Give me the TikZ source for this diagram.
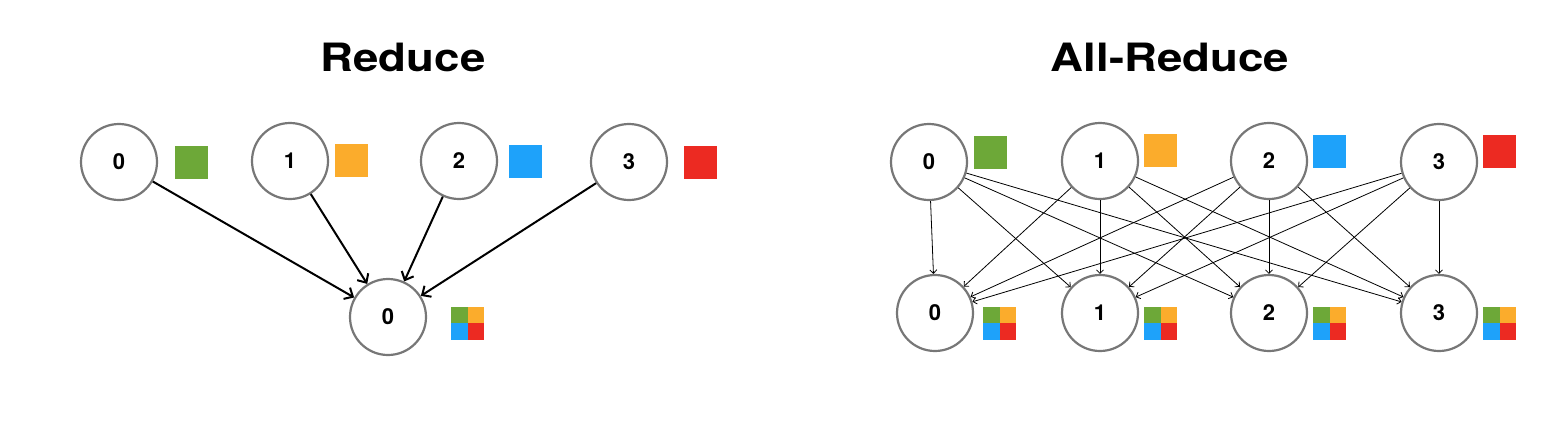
\documentclass[tikz,border=0pt]{standalone}
\usepackage{fontspec}
\setmainfont{TeX Gyre Heros}
\usetikzlibrary{arrows.meta}
\definecolor{cg}{HTML}{6DA838}
\definecolor{co}{HTML}{FBAC2C}
\definecolor{cb}{HTML}{1EA2FA}
\definecolor{cr}{HTML}{EC2A22}
\definecolor{ring}{HTML}{777777}
\begin{document}
\begin{tikzpicture}[x=1pt,y=-1pt,
  proc/.style={circle,draw=ring,line width=2.2pt,fill=white,minimum size=76pt,inner sep=0pt,font=\fontsize{22}{22}\selectfont\bfseries},
  blk/.style={minimum size=33pt,inner sep=0pt,outer sep=0pt},
  qb/.style={minimum size=16.5pt,inner sep=0pt,outer sep=0pt},
  big/.style={line width=2pt,-{Straight Barb[length=7pt,width=13pt,line width=2pt]}},
  ar/.style={line width=0.8pt,-{Straight Barb[length=3.5pt,width=7pt,line width=0.8pt]}},
  ttl/.style={font=\fontsize{39}{39}\selectfont\bfseries}
]
\useasboundingbox (0,0) rectangle (1550,432);

% titles
\node[ttl] (h1) at (403,57) {\scalebox{1.17}[1]{Reduce}};
\node[ttl] (h2) at (1170,57) {\scalebox{1.17}[1]{All-Reduce}};

% ---- Reduce ----
\node[proc] (a0) at (119,162) {0};
\node[proc] (a1) at (290,161) {1};
\node[proc] (a2) at (459,161) {2};
\node[proc] (a3) at (629,162) {3};
\node[proc] (r)  at (388,317) {0};

\node[blk,fill=cg] (sa0) at (191.5,162.5) {};
\node[blk,fill=co] (sa1) at (351.5,160.5) {};
\node[blk,fill=cb] (sa2) at (525.5,161.5) {};
\node[blk,fill=cr] (sa3) at (700.5,162.5) {};

\foreach \n/\cx in {qr/467.5}{
  \node[qb,fill=cg] (\n a) at (\cx-8.25,323-8.25) {};
  \node[qb,fill=co] (\n b) at (\cx+8.25,323-8.25) {};
  \node[qb,fill=cb] (\n c) at (\cx-8.25,323+8.25) {};
  \node[qb,fill=cr] (\n d) at (\cx+8.25,323+8.25) {};
}

\foreach \i in {0,1,2,3}{
  \draw[big] (a\i) -- (r);
}

% ---- All-Reduce ----
\node[proc] (t0) at (929,162) {0};
\node[proc] (t1) at (1100,161) {1};
\node[proc] (t2) at (1269,161) {2};
\node[proc] (t3) at (1439,162) {3};
\node[proc] (b0) at (935,313) {0};
\node[proc] (b1) at (1100,313) {1};
\node[proc] (b2) at (1269,313) {2};
\node[proc] (b3) at (1439,313) {3};

\node[blk,fill=cg] (st0) at (990.5,152.5) {};
\node[blk,fill=co] (st1) at (1160.5,150.5) {};
\node[blk,fill=cb] (st2) at (1329.5,151.5) {};
\node[blk,fill=cr] (st3) at (1499.5,151.5) {};

\foreach \n/\cx in {q0/999.5,q1/1160.5,q2/1329.5,q3/1499.5}{
  \node[qb,fill=cg] (\n a) at (\cx-8.25,323-8.25) {};
  \node[qb,fill=co] (\n b) at (\cx+8.25,323-8.25) {};
  \node[qb,fill=cb] (\n c) at (\cx-8.25,323+8.25) {};
  \node[qb,fill=cr] (\n d) at (\cx+8.25,323+8.25) {};
}

\foreach \i in {0,1,2,3}{
  \foreach \j in {0,1,2,3}{
    \draw[ar] (t\i) -- (b\j);
  }
}
\end{tikzpicture}
\end{document}
